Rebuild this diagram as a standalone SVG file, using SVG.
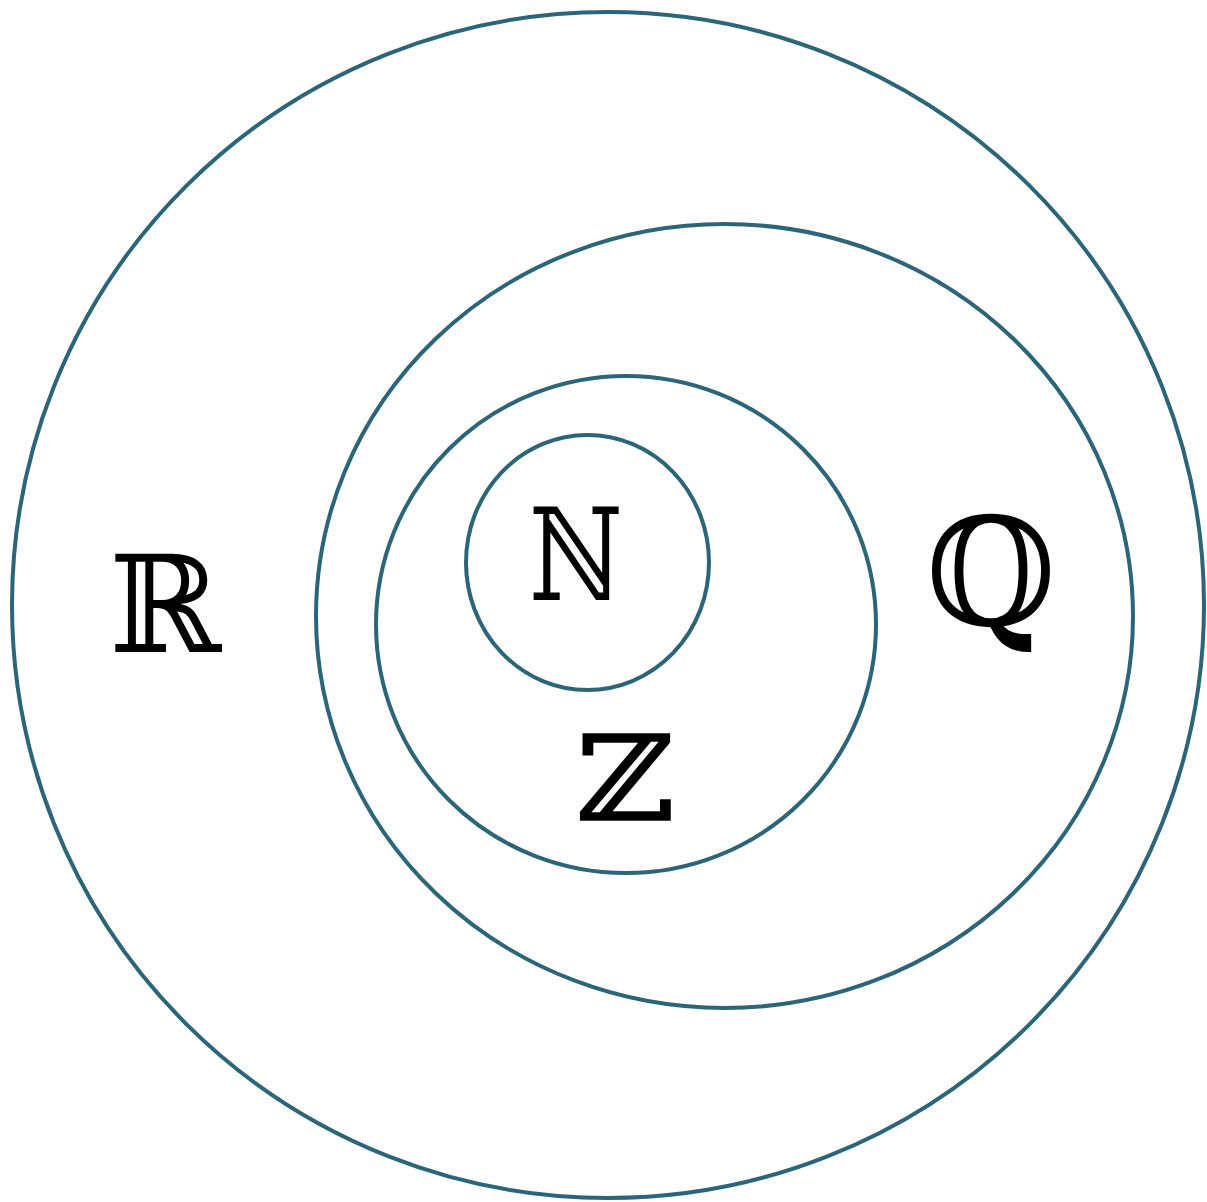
<svg xmlns="http://www.w3.org/2000/svg" width="1207" height="1202" viewBox="0 0 1207 1202">
<style>
.ring{fill:none;stroke:#2b6577;stroke-width:4}
.lbl{font-family:"DejaVu Serif","DejaVu Sans",serif;fill:#000;text-anchor:middle}
</style>
<rect width="1207" height="1202" fill="#fff"/>
<g id="connectors"></g>
<g id="R"><ellipse class="ring" cx="608" cy="605" rx="596" ry="593"/><text class="lbl" x="165" y="652" font-size="135">ℝ</text></g>
<g id="Q"><ellipse class="ring" cx="724.5" cy="616" rx="408.5" ry="392"/><text class="lbl" x="991" y="625" font-size="150">ℚ</text></g>
<g id="Z"><ellipse class="ring" cx="626" cy="624.5" rx="250" ry="248.5"/><text class="lbl" transform="translate(625,820) scale(1.15,1)" x="0" y="0" font-size="118" stroke="#000" stroke-width="1.5">ℤ</text></g>
<g id="N"><ellipse class="ring" cx="587.5" cy="562.5" rx="121.5" ry="127.5"/><text class="lbl" transform="translate(576,600) scale(0.8,1)" x="0" y="0" font-size="128">ℕ</text></g>
</svg>
